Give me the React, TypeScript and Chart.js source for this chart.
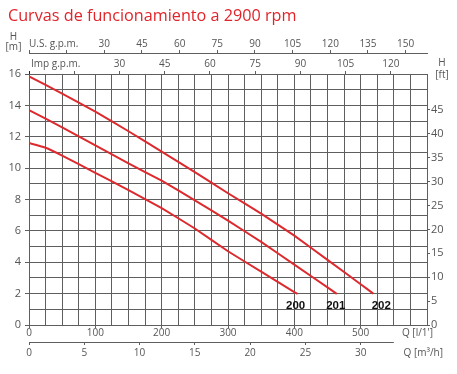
import React, { useEffect, useRef } from 'react';
import { Chart, registerables } from 'chart.js';

Chart.register(...registerables);

const TITLE = 'Curvas de funcionamiento a 2900 rpm';
const SERIES_NAMES = ['200', '201', '202'];

const Q_200 = [0, 25, 50, 100, 150, 200, 250, 300, 350, 400, 405];
const H_200 = [11.6, 11.3, 10.8, 9.7, 8.6, 7.45, 6.15, 4.7, 3.4, 2.1, 1.98];
const Q_201 = [0, 50, 100, 150, 200, 250, 300, 350, 400, 450, 464];
const H_201 = [13.7, 12.6, 11.45, 10.3, 9.2, 7.95, 6.65, 5.3, 3.85, 2.4, 1.98];
const Q_202 = [0, 50, 100, 150, 200, 250, 300, 350, 400, 450, 500, 519];
const H_202 = [15.85, 14.75, 13.6, 12.35, 11.05, 9.75, 8.4, 7.1, 5.7, 4.15, 2.6, 2.0];

const Q_MAX = 600; // l/min
const H_MAX = 16; // m
const LPM_GRID = Array.from({ length: 25 }, (_, i) => i * 25);
const LPM_LABELS = [0, 100, 200, 300, 400, 500];
const M3H_TICKS = [0, 5, 10, 15, 20, 25, 30];
const US_TICKS = [0, 15, 30, 45, 60, 75, 90, 105, 120, 135, 150];
const US_LABELS = [30, 45, 60, 75, 90, 105, 120, 135, 150];
const IMP_TICKS = [0, 15, 30, 45, 60, 75, 90, 105, 120];
const IMP_LABELS = [30, 45, 60, 75, 90, 105, 120];
const M_GRID = Array.from({ length: 17 }, (_, i) => i);
const M_LABELS = [0, 2, 4, 6, 8, 10, 12, 14, 16];
const FT_TICKS = [0, 5, 10, 15, 20, 25, 30, 35, 40, 45];

const US_PER_LPM = 0.264172;
const IMP_PER_LPM = 0.219969;
const M3H_PER_LPM = 0.06;
const FT_PER_M = 3.28084;

const RED = '#dc2a2e';
const GRID = '#5e5e5e';
const TEXT = '#555555';
const FONT = "'Open Sans', sans-serif";
const tickFont = { family: FONT, size: 10 };

const setTicks = (vals: number[]) => (s: any) => {
  s.ticks = vals.map((v) => ({ value: v }));
};

export default function App() {
  const ref = useRef<HTMLCanvasElement | null>(null);

  useEffect(() => {
    document.body.style.margin = '0';
    const canvas = ref.current;
    if (!canvas) return;

    const mk = (q: number[], h: number[]) => q.map((v, i) => ({ x: v, y: h[i] }));

    const captions = {
      id: 'captions',
      afterDraw(chart: any) {
        const ctx = chart.ctx;
        const ca = chart.chartArea;
        ctx.save();
        // title
        ctx.fillStyle = '#e2232a';
        ctx.font = `16.2px ${FONT}`;
        ctx.textAlign = 'left';
        ctx.textBaseline = 'alphabetic';
        ctx.fillText(TITLE, 8, 21);

        ctx.fillStyle = TEXT;
        ctx.font = `10px ${FONT}`;
        ctx.textBaseline = 'middle';
        ctx.textAlign = 'center';
        ctx.fillText('H', 13.5, 37);
        ctx.fillText('[m]', 13.5, 47.5);
        ctx.fillText('H', 442, 63);
        ctx.fillText('[ft]', 442, 75);
        ctx.textAlign = 'left';
        ctx.fillText('U.S. g.p.m.', ca.left, 44);
        ctx.fillText('Imp g.p.m.', ca.left + 2, 64);
        ctx.textAlign = 'right';
        ctx.fillText("Q [l/1']", 433, 333.5);
        ctx.fillText('Q [m³/h]', 443, 353);

        // m3/h axis line
        const m3 = chart.scales.xM3;
        ctx.strokeStyle = GRID;
        ctx.lineWidth = 1;
        ctx.beginPath();
        ctx.moveTo(m3.getPixelForValue(0), Math.round(m3.top) + 0.5);
        ctx.lineTo(m3.getPixelForValue(33), Math.round(m3.top) + 0.5);
        ctx.stroke();

        // curve labels
        ctx.fillStyle = '#111';
        ctx.font = `bold 11.5px 'Liberation Sans', Arial, sans-serif`;
        ctx.textAlign = 'center';
        const dx = [-2, -1, 8];
        chart.data.datasets.forEach((ds: any, i: number) => {
          const last = ds.data[ds.data.length - 1];
          const px = chart.scales.x.getPixelForValue(last.x) + dx[i];
          const py = chart.scales.y.getPixelForValue(last.y) + 12;
          ctx.fillText(SERIES_NAMES[i], px, py);
        });
        ctx.restore();
      },
    };

    const chart = new Chart(canvas, {
      type: 'line',
      data: {
        datasets: [
          { label: SERIES_NAMES[0], data: mk(Q_200, H_200) },
          { label: SERIES_NAMES[1], data: mk(Q_201, H_201) },
          { label: SERIES_NAMES[2], data: mk(Q_202, H_202) },
        ].map((d) => ({
          ...d,
          borderColor: RED,
          backgroundColor: RED,
          borderWidth: 2,
          pointRadius: 0,
          tension: 0.1,
          fill: false,
          xAxisID: 'x',
          yAxisID: 'y',
        })),
      },
      options: {
        animation: false,
        responsive: false,
        devicePixelRatio: 1,
        layout: { padding: 0 },
        plugins: {
          legend: { display: false },
          tooltip: { enabled: false },
          title: { display: false },
        },
        scales: {
          x: {
            type: 'linear',
            position: 'bottom',
            weight: 0,
            min: 0,
            max: Q_MAX,
            afterBuildTicks: setTicks(LPM_GRID),
            afterFit: (s: any) => { s.height = 17; },
            ticks: {
              autoSkip: false,
              maxRotation: 0,
              padding: -1,
              font: tickFont,
              color: TEXT,
              callback: (v: any) => (LPM_LABELS.includes(v) ? String(v) : ''),
            },
            grid: {
              color: GRID,
              lineWidth: 1,
              drawTicks: true,
              tickLength: 3,
              tickColor: (c: any) => (c.tick && LPM_LABELS.includes(c.tick.value) ? GRID : 'rgba(0,0,0,0)'),
            },
            border: { color: GRID },
          },
          xM3: {
            type: 'linear',
            position: 'bottom',
            weight: 1,
            min: 0,
            max: Q_MAX * M3H_PER_LPM,
            afterBuildTicks: setTicks(M3H_TICKS),
            afterFit: (s: any) => { s.height = 32; },
            ticks: { autoSkip: false, maxRotation: 0, padding: 2, font: tickFont, color: TEXT },
            grid: { drawOnChartArea: false, drawTicks: true, tickLength: 3, tickColor: GRID },
            border: { display: false },
          },
          xImp: {
            type: 'linear',
            position: 'top',
            weight: 0,
            min: 0,
            max: Q_MAX * IMP_PER_LPM,
            afterBuildTicks: setTicks(IMP_TICKS),
            afterFit: (s: any) => { s.height = 21; },
            ticks: {
              autoSkip: false,
              maxRotation: 0,
              padding: 1,
              font: tickFont,
              color: TEXT,
              callback: (v: any) => (IMP_LABELS.includes(v) ? String(v) : ''),
            },
            grid: { drawOnChartArea: false, drawTicks: true, tickLength: 3, tickColor: (c: any) => (c.tick && c.tick.value === 0 ? '#222' : GRID) },
            border: { color: GRID },
          },
          xUS: {
            type: 'linear',
            position: 'top',
            weight: 1,
            min: 0,
            max: Q_MAX * US_PER_LPM,
            afterBuildTicks: setTicks(US_TICKS),
            afterFit: (s: any) => { s.height = 53; },
            ticks: {
              autoSkip: false,
              maxRotation: 0,
              padding: 0,
              font: tickFont,
              color: TEXT,
              callback: (v: any) => (US_LABELS.includes(v) ? String(v) : ''),
            },
            grid: { drawOnChartArea: false, drawTicks: true, tickLength: 3, tickColor: GRID },
            border: { color: GRID },
          },
          y: {
            type: 'linear',
            position: 'left',
            min: 0,
            max: H_MAX,
            afterBuildTicks: setTicks(M_GRID),
            afterFit: (s: any) => { s.width = 29; },
            ticks: {
              autoSkip: false,
              padding: 4,
              font: { family: FONT, size: 11 },
              color: TEXT,
              callback: (v: any) => (M_LABELS.includes(v) ? String(v) : ''),
            },
            grid: {
              color: GRID,
              lineWidth: 1,
              drawTicks: true,
              tickLength: 4,
              tickColor: (c: any) => (c.tick && M_LABELS.includes(c.tick.value) ? GRID : 'rgba(0,0,0,0)'),
            },
            border: { color: GRID },
          },
          yFt: {
            type: 'linear',
            position: 'right',
            min: 0,
            max: H_MAX * FT_PER_M,
            afterBuildTicks: setTicks(FT_TICKS),
            afterFit: (s: any) => { s.width = 30; },
            ticks: { autoSkip: false, padding: 1, font: { family: FONT, size: 11 }, color: TEXT },
            grid: { drawOnChartArea: false, drawTicks: true, tickLength: 3, tickColor: GRID },
            border: { color: GRID },
          },
        },
      } as any,
      plugins: [captions],
    });

    return () => chart.destroy();
  }, []);

  return (
    <div style={{ width: 457, height: 374 }}>
      <canvas ref={ref} width={457} height={374} style={{ display: 'block', width: 457, height: 374 }} />
    </div>
  );
}
